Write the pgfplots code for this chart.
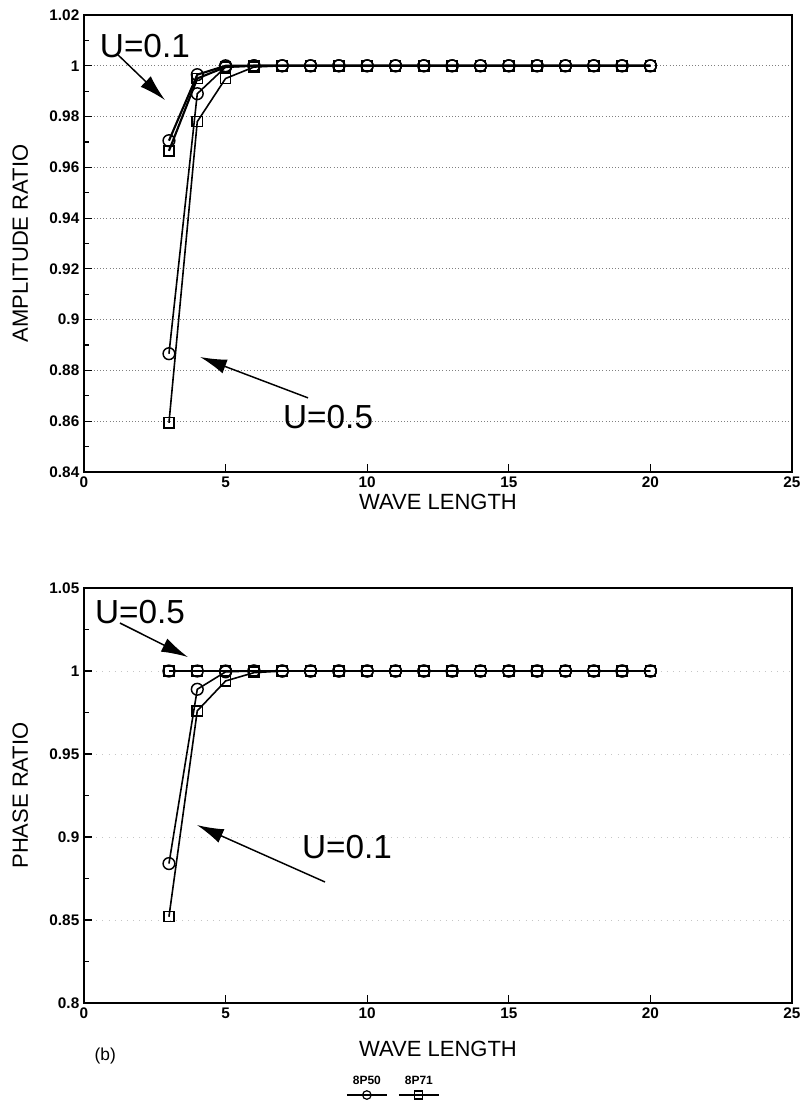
\documentclass[border=0pt]{standalone}
\usepackage{pgfplots}
\pgfplotsset{compat=1.18}
\usepackage{fontspec}
\setmainfont{Liberation Sans}
\usetikzlibrary{arrows.meta}

\pgfplotsset{
  ratio/.style={
    scale only axis,
    width=531pt,
    xmin=0, xmax=25,
    xtick={0,5,10,15,20,25},
    tick pos=left,
    tick align=inside,
    major tick length=6pt,
    minor tick length=3.5pt,
    axis line style={line width=1.3pt},
    every tick/.style={line width=0.9pt, black},
    ymajorgrids,
    major grid style={gray, dotted, line width=0.6pt},
    /pgf/number format/assume math mode=true,
    tick label style={font=\bfseries\fontsize{11.5}{13}\selectfont},
    label style={font=\fontsize{16.5}{18}\selectfont},
    ylabel style={at={(axis description cs:-0.09,0.5)}, anchor=center},
    xlabel={WAVE LENGTH},
    xlabel style={yshift=2pt},
    clip=false,
  },
  pt0/.style={black, line width=1.2pt, mark=o, mark size=4.4pt, mark options={solid, line width=1.1pt}},
  pt1/.style={black, line width=1.2pt, mark=square, mark size=3.8pt, mark options={solid, line width=1.1pt}},
}
\tikzset{
  note/.style={font=\fontsize{25}{28}\selectfont},
  arr/.style={line width=1.1pt, -{Latex[length=20pt, width=11pt]}},
}

\begin{document}
\begin{tikzpicture}
\path[use as bounding box] (0,0) rectangle (601.5pt,-825.75pt);

% (a) amplitude ratio
\begin{axis}[ratio,
  at={(63pt,-11.25pt)}, anchor=north west,
  height=342.75pt,
  ymin=0.84, ymax=1.02,
  ytick={0.84,0.86,0.88,0.9,0.92,0.94,0.96,0.98,1,1.02},
  minor ytick={0.85,0.87,0.89,0.91,0.93,0.95,0.97,0.99,1.01},
  ylabel={AMPLITUDE RATIO},
]
% U=0.1
\addplot[pt0, line width=1.6pt] coordinates {(3,0.9705) (4,0.9965) (5,1.0) (6,1.0) (7,1.0) (8,1.0) (9,1.0) (10,1.0) (11,1.0) (12,1.0) (13,1.0) (14,1.0) (15,1.0) (16,1.0) (17,1.0) (18,1.0) (19,1.0) (20,1.0)};
\addplot[pt1, line width=1.6pt] coordinates {(3,0.9665) (4,0.9950) (5,0.9995) (6,1.0) (7,1.0) (8,1.0) (9,1.0) (10,1.0) (11,1.0) (12,1.0) (13,1.0) (14,1.0) (15,1.0) (16,1.0) (17,1.0) (18,1.0) (19,1.0) (20,1.0)};
% U=0.5
\addplot[pt0] coordinates {(3,0.8866) (4,0.9890) (5,0.9995) (6,1.0) (7,1.0) (8,1.0) (9,1.0) (10,1.0) (11,1.0) (12,1.0) (13,1.0) (14,1.0) (15,1.0) (16,1.0) (17,1.0) (18,1.0) (19,1.0) (20,1.0)};
\addplot[pt1] coordinates {(3,0.8594) (4,0.9780) (5,0.9950) (6,0.9995) (7,1.0) (8,1.0) (9,1.0) (10,1.0) (11,1.0) (12,1.0) (13,1.0) (14,1.0) (15,1.0) (16,1.0) (17,1.0) (18,1.0) (19,1.0) (20,1.0)};
\node[note] at (axis cs:2.15,1.0078) {U=0.1};
\draw[arr] (axis cs:1.2,1.0043) -- (axis cs:2.86,0.9865);
\node[note] at (axis cs:8.62,0.8617) {U=0.5};
\draw[arr] (axis cs:7.91,0.8692) -- (axis cs:4.10,0.8853);
\end{axis}

% (b) phase ratio
\begin{axis}[ratio,
  at={(63pt,-441pt)}, anchor=north west,
  height=311.25pt,
  ymin=0.8, ymax=1.05,
  ytick={0.8,0.85,0.9,0.95,1,1.05},
  minor ytick={0.825,0.875,0.925,0.975,1.025},
  ylabel={PHASE RATIO},
  xlabel style={yshift=-12pt},
  major grid style={gray!45, loosely dotted, line width=0.5pt},
  legend style={at={(0.44,-0.17)}, anchor=north, draw=none, fill=none,
    legend columns=2,
    /tikz/every even column/.append style={column sep=4pt}},
]
% U=0.5
\addplot[pt0, forget plot] coordinates {(3,1.0) (4,1.0) (5,1.0) (6,1.0) (7,1.0) (8,1.0) (9,1.0) (10,1.0) (11,1.0) (12,1.0) (13,1.0) (14,1.0) (15,1.0) (16,1.0) (17,1.0) (18,1.0) (19,1.0) (20,1.0)};
\addplot[pt1, forget plot] coordinates {(3,1.0) (4,1.0) (5,1.0) (6,1.0) (7,1.0) (8,1.0) (9,1.0) (10,1.0) (11,1.0) (12,1.0) (13,1.0) (14,1.0) (15,1.0) (16,1.0) (17,1.0) (18,1.0) (19,1.0) (20,1.0)};
% U=0.1
\addplot[pt0, forget plot] coordinates {(3,0.8840) (4,0.9890) (5,0.9995) (6,1.0) (7,1.0) (8,1.0) (9,1.0) (10,1.0) (11,1.0) (12,1.0) (13,1.0) (14,1.0) (15,1.0) (16,1.0) (17,1.0) (18,1.0) (19,1.0) (20,1.0)};
\addplot[pt1, forget plot] coordinates {(3,0.8520) (4,0.9760) (5,0.9940) (6,0.9990) (7,1.0) (8,1.0) (9,1.0) (10,1.0) (11,1.0) (12,1.0) (13,1.0) (14,1.0) (15,1.0) (16,1.0) (17,1.0) (18,1.0) (19,1.0) (20,1.0)};
\addlegendimage{black, legend image code/.code={
  \draw[black, line width=1pt] (0pt,-5pt) -- (30pt,-5pt);
  \draw[black, line width=0.9pt] (15pt,-5pt) circle (3.2pt);
  \node[font=\bfseries\fontsize{9}{10}\selectfont, inner sep=0pt] at (15pt,5pt) {8P50};}}
\addlegendentry{}
\addlegendimage{black, legend image code/.code={
  \draw[black, line width=1pt] (0pt,-5pt) -- (30pt,-5pt);
  \draw[black, line width=0.9pt] (12pt,-8pt) rectangle (18pt,-2pt);
  \node[font=\bfseries\fontsize{9}{10}\selectfont, inner sep=0pt] at (15pt,5pt) {8P71};}}
\addlegendentry{}
\node[note] at (axis cs:1.98,1.0355) {U=0.5};
\draw[arr] (axis cs:1.27,1.0289) -- (axis cs:3.67,1.0084);
\node[note] at (axis cs:9.29,0.894) {U=0.1};
\draw[arr] (axis cs:8.51,0.8729) -- (axis cs:3.99,0.9072);
\node[font=\fontsize{13}{15}\selectfont] at (axis cs:0.75,0.768) {(b)};
\end{axis}
\end{tikzpicture}
\end{document}
